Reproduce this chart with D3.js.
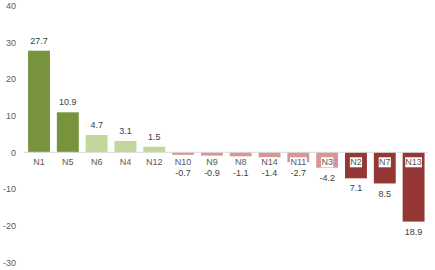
<!DOCTYPE html>
<html>
<head>
<meta charset="utf-8">
<script src="https://cdn.jsdelivr.net/npm/d3@7"></script>
<style>
  body { margin: 0; background: #fff; }
  svg text { font-family: "Liberation Sans", Arial, sans-serif; }
</style>
</head>
<body>
<svg id="chart"></svg>
<script>
// chart data
const categories = ["N1", "N5", "N6", "N4", "N12", "N10", "N9", "N8", "N14", "N11", "N3", "N2", "N7", "N13"];
const values = [27.7, 10.9, 4.7, 3.1, 1.5, -0.7, -0.9, -1.1, -1.4, -2.7, -4.2, -7.1, -8.5, -18.9];
const valueLabels = ["27.7", "10.9", "4.7", "3.1", "1.5", "-0.7", "-0.9", "-1.1", "-1.4", "-2.7", "-4.2", "7.1", "8.5", "18.9"];
const yTicks = [-30, -20, -10, 0, 10, 20, 30, 40];

const width = 435, height = 270;
let svg = d3.select("#chart")
    .attr("width", width)
    .attr("height", height);

//scales
let xScale = d3.scaleBand()
    .domain(categories)
    .range([24.6, 428])
    .paddingInner(0.24)
    .paddingOuter(0.12);

let yScale = d3.scaleLinear()
    .domain([-30, 40])
    .range([262.3, 5.6]);

//bar colour depends on value
function barColor(v) {
    if (v >= 10) return "#77933c";
    if (v >= 0) return "#c3d69b";
    if (v > -5) return "#d99694";
    return "#953735";
}

//left axis, only labels (plain hyphen minus like the original)
let yAxis = svg.append("g")
    .attr("transform", "translate(16,0)")
    .call(d3.axisLeft(yScale).tickValues(yTicks).tickSize(0).tickPadding(0).tickFormat(d => String(d)));
yAxis.select(".domain").remove();
yAxis.selectAll("text")
    .attr("fill", "#595959")
    .attr("font-size", "9px");

let data = categories.map((c, i) => ({ cat: c, v: values[i], label: valueLabels[i] }));

//bars
svg.selectAll("rect.bar")
    .data(data)
    .enter()
    .append("rect")
    .attr("class", "bar")
    .attr("x", d => xScale(d.cat))
    .attr("width", xScale.bandwidth())
    .attr("y", d => yScale(Math.max(0, d.v)))
    .attr("height", d => Math.abs(yScale(d.v) - yScale(0)))
    .attr("fill", d => barColor(d.v));

//zero line
svg.append("line")
    .attr("x1", 24)
    .attr("x2", 428)
    .attr("y1", yScale(0))
    .attr("y2", yScale(0))
    .attr("stroke", "#d9d9d9")
    .attr("stroke-width", 1);

//category labels with white box
let cats = svg.selectAll("g.cat")
    .data(data)
    .enter()
    .append("g")
    .attr("class", "cat")
    .attr("transform", d => `translate(${xScale(d.cat) + xScale.bandwidth() / 2},${yScale(0) + 10})`);

cats.append("rect")
    .attr("x", d => -(d.cat.length * 4.6 + 3) / 2)
    .attr("y", -5)
    .attr("width", d => d.cat.length * 4.6 + 3)
    .attr("height", 10)
    .attr("fill", "#fff");

cats.append("text")
    .attr("text-anchor", "middle")
    .attr("dy", "0.35em")
    .attr("font-size", "9px")
    .attr("fill", "#595959")
    .text(d => d.cat);

//value labels
svg.selectAll("text.val")
    .data(data)
    .enter()
    .append("text")
    .attr("class", "val")
    .attr("x", d => xScale(d.cat) + xScale.bandwidth() / 2)
    .attr("y", d => d.v >= 0 ? yScale(d.v) - 10 : Math.max(yScale(d.v) + 10, 172.5))
    .attr("dy", "0.35em")
    .attr("text-anchor", "middle")
    .attr("font-size", "9px")
    .attr("fill", "#404040")
    .text(d => d.label);
</script>
</body>
</html>
